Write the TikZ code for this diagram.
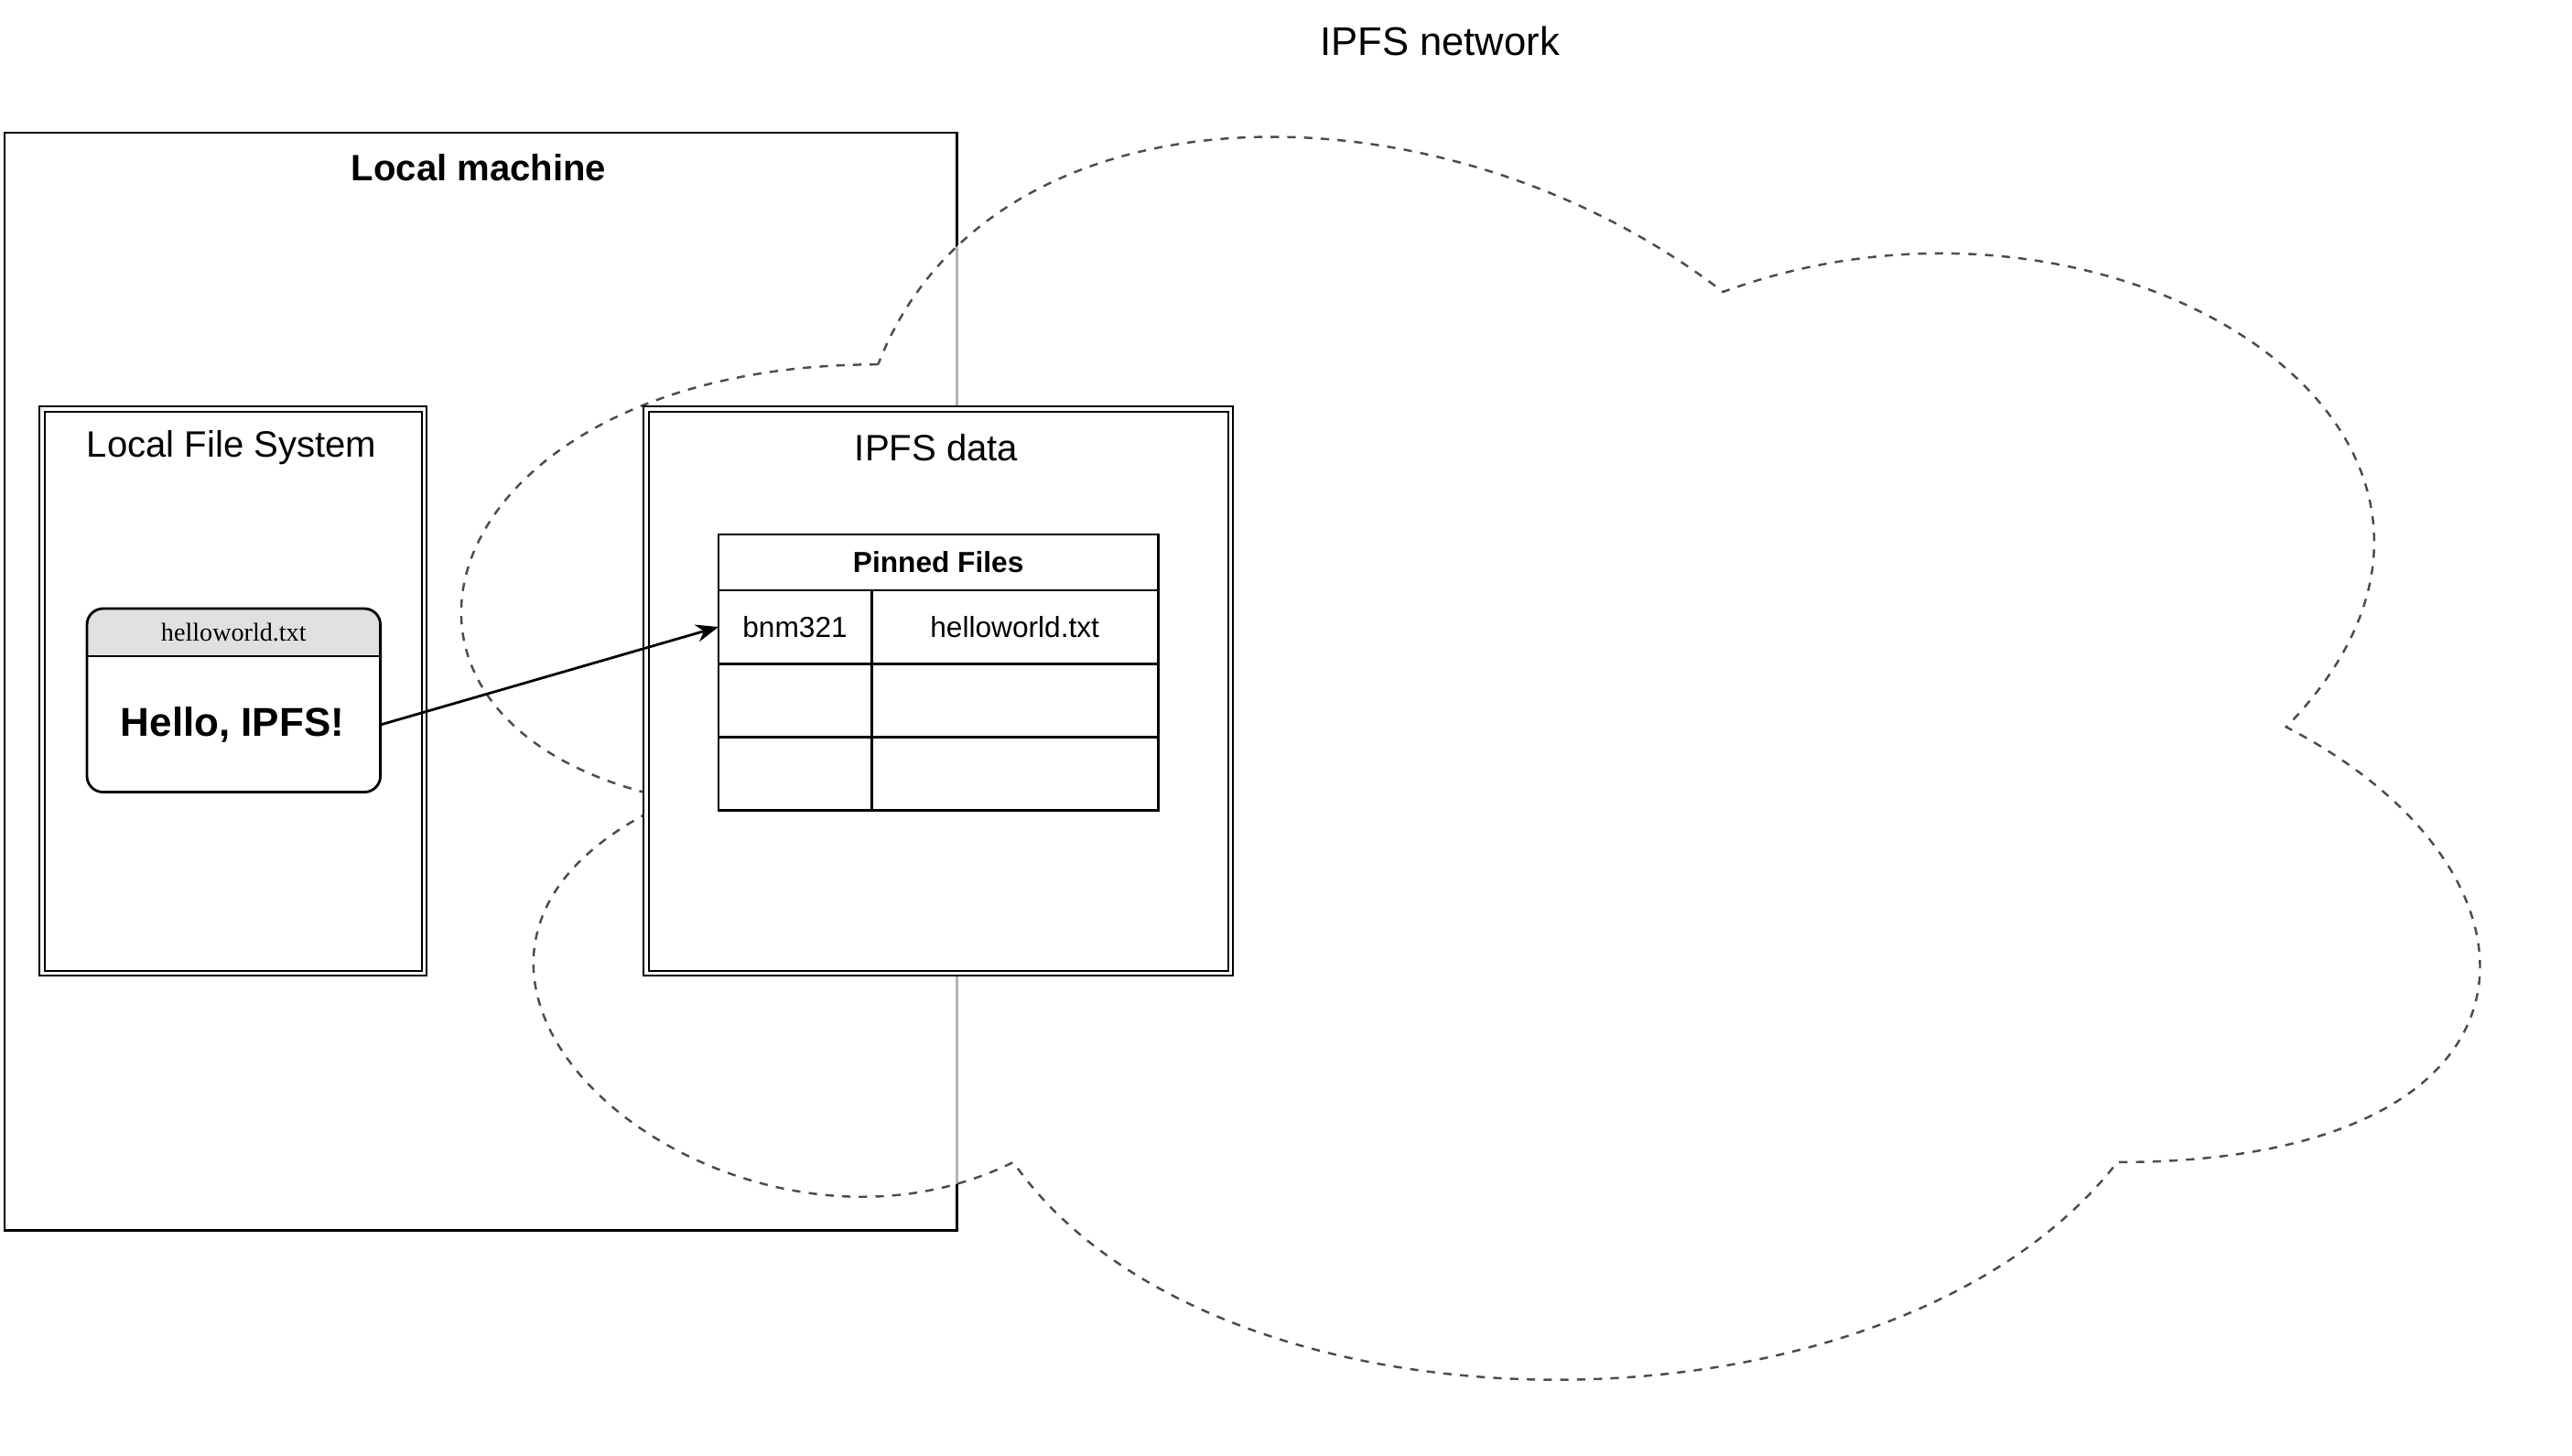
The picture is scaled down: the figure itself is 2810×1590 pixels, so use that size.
\documentclass[tikz,border=0pt]{standalone}
\usepackage{fontspec}
\setmainfont{Liberation Sans}
\newfontfamily\cardfont{Liberation Serif}
\usetikzlibrary{positioning, calc, arrows.meta}

\definecolor{headgray}{HTML}{E0E0E0}

\begin{document}
\begin{tikzpicture}[x=0.01cm, y=-0.01cm,
	frame/.style={draw, line width=0.8pt, inner sep=0pt, outer sep=0pt},
	doubleframe/.style={draw, double, line width=0.55pt, double distance=0.9pt, fill=white, inner sep=0pt, outer sep=0pt},
	cell/.style={draw, line width=0.8pt, inner sep=0pt, outer sep=0pt, font=\fontsize{9}{11}\selectfont},
	title/.style={font=\fontsize{11.4}{14}\selectfont},
	boldtitle/.style={font=\fontsize{11.4}{14}\bfseries\selectfont}]

	\useasboundingbox (0,0) rectangle (2810,1590);

	\node[font=\fontsize{12.4}{15}\selectfont] (networktitle) at (1573,45) {IPFS network};

	% local machine
	\node[frame, anchor=north west, minimum width=10.4cm, minimum height=11.99cm] (machine) at (5,145) {};
	\node[boldtitle] (machinetitle) at (523,183) {Local machine};

	% cloud of the network
	\begin{scope}[shift={(344,2)}, x=24.6cm, y=-15.84cm]
	\draw[dashed, line width=0.7pt, dash pattern=on 2.6pt off 2.6pt, fill=white, fill opacity=0.7, draw opacity=0.7]
		(0.25,0.25) .. controls (0.05,0.25) and (0,0.5) .. (0.16,0.55)
		.. controls (0,0.66) and (0.18,0.9) .. (0.31,0.8)
		.. controls (0.4,1) and (0.7,1) .. (0.8,0.8)
		.. controls (1,0.8) and (1,0.6) .. (0.875,0.5)
		.. controls (1,0.3) and (0.8,0.1) .. (0.625,0.2)
		.. controls (0.5,0.05) and (0.3,0.05) .. (0.25,0.25) -- cycle;
	\end{scope}

	% local file system
	\node[doubleframe, anchor=north west, minimum width=4.17cm, minimum height=6.16cm] (lfs) at (46,447) {};
	\node[title] (lfstitle) at (253,489) {Local File System};

	\node[inner sep=0pt, anchor=north west, minimum width=3.19cm, minimum height=1.99cm] (card) at (95,665) {};
	\coordinate (cardsplit) at ($(card.north east)+(0,52)$);
	\begin{scope}
	\clip[rounded corners=5pt] (card.south west) rectangle (card.north east);
	\fill[headgray] (card.north west) rectangle (cardsplit);
	\end{scope}
	\draw[line width=0.8pt, rounded corners=5pt] (card.south west) rectangle (card.north east);
	\draw[line width=0.8pt] (card.west |- cardsplit) -- (cardsplit);
	\node[font=\cardfont\fontsize{8}{10}\selectfont] (cardname) at ($(card.north)+(0,26)$) {helloworld.txt};
	\node[font=\fontsize{12.5}{15}\bfseries\selectfont] (cardtext) at (254,792) {Hello, IPFS!};

	% ipfs data
	\node[doubleframe, anchor=north west, minimum width=6.38cm, minimum height=6.16cm] (ipfs) at (706,447) {};
	\node[title] (ipfstitle) at (1023,489) {IPFS data};

	\node[cell, font=\fontsize{9}{11}\bfseries\selectfont, anchor=north west, minimum width=4.8cm, minimum height=0.61cm] (pinned) at (785,584) {Pinned Files};
	\node[cell, anchor=north west, minimum width=1.67cm, minimum height=0.8cm] (hash1) at (pinned.south west) {bnm321};
	\node[cell, anchor=north west, minimum width=3.13cm, minimum height=0.8cm] (name1) at (hash1.north east) {helloworld.txt};
	\node[cell, anchor=north west, minimum width=1.67cm, minimum height=0.8cm] (hash2) at (hash1.south west) {};
	\node[cell, anchor=north west, minimum width=3.13cm, minimum height=0.8cm] (name2) at (hash2.north east) {};
	\node[cell, anchor=north west, minimum width=1.67cm, minimum height=0.8cm] (hash3) at (hash2.south west) {};
	\node[cell, anchor=north west, minimum width=3.13cm, minimum height=0.8cm] (name3) at (hash3.north east) {};

	\draw[line width=0.8pt, -{Stealth[length=7pt, width=5.5pt]}] (card.east |- cardtext) -- (hash1.west);
\end{tikzpicture}
\end{document}
